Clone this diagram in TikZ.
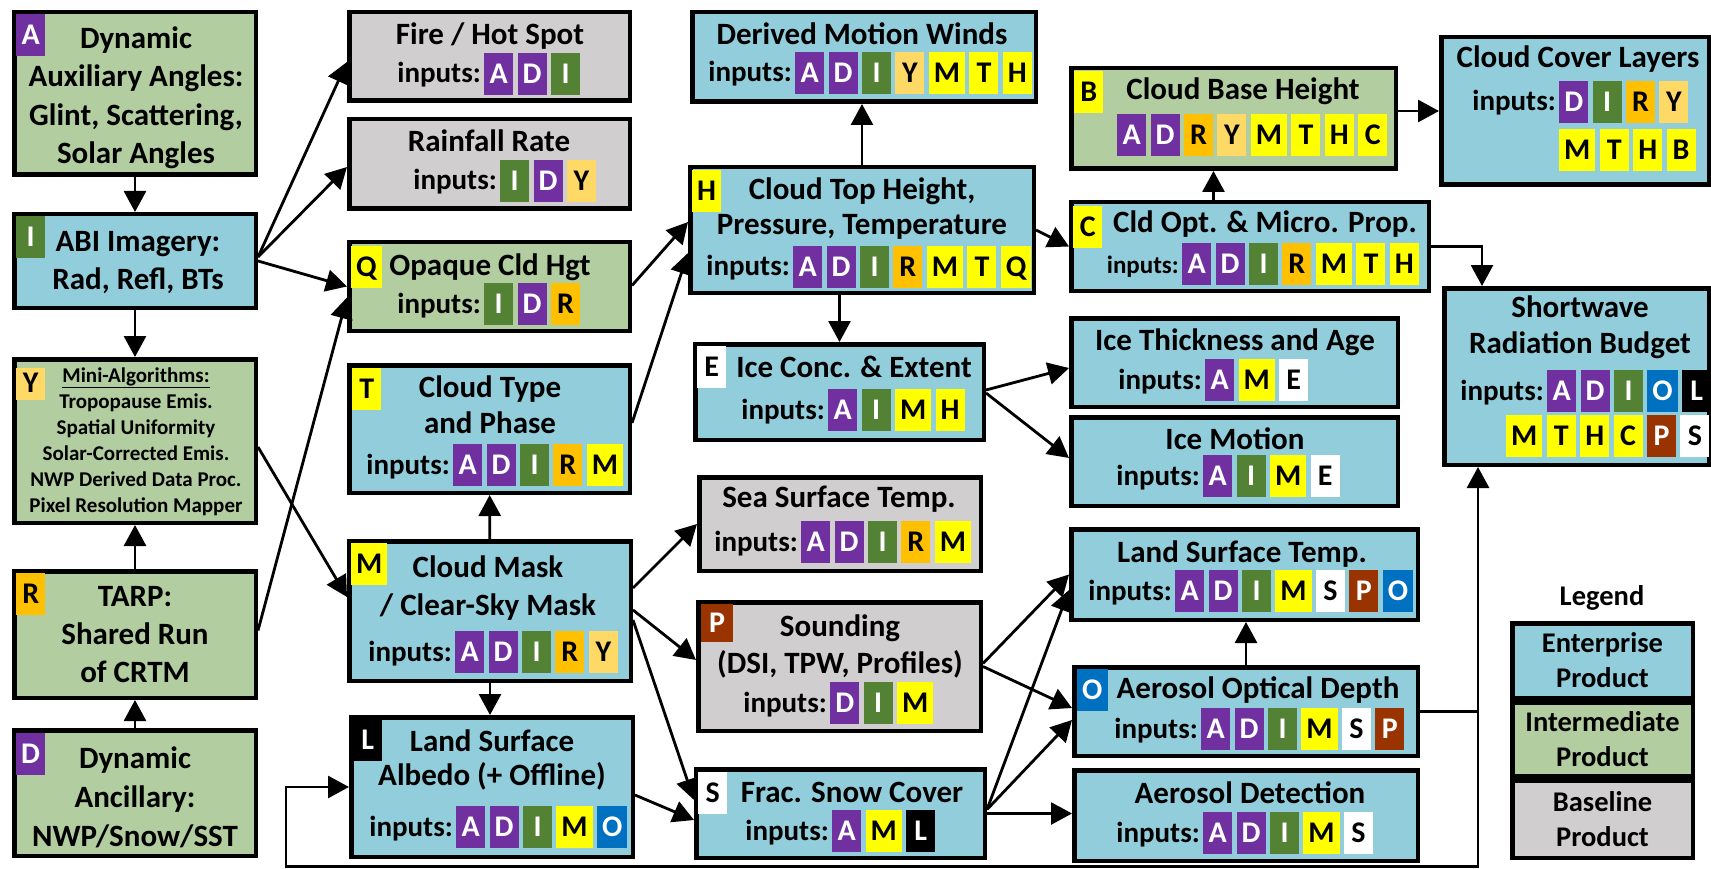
\documentclass[tikz,border=0pt]{standalone}
\usepackage{fontspec}
\setmainfont{Carlito}
\usetikzlibrary{positioning, arrows.meta}

\definecolor{entblue}{RGB}{146,205,220}
\definecolor{intgreen}{RGB}{178,205,160}
\definecolor{basegray}{RGB}{208,206,206}
\definecolor{purp}{RGB}{112,48,160}
\definecolor{leaf}{RGB}{84,130,53}
\definecolor{sand}{RGB}{255,217,102}
\definecolor{amber}{RGB}{255,192,0}
\definecolor{lemon}{RGB}{255,255,0}
\definecolor{rust}{RGB}{153,51,0}
\definecolor{ocean}{RGB}{0,112,192}

% letter -> fill colour and text colour
\newcommand\lettercol[3]{\colorlet{c#1}{#2}\colorlet{t#1}{#3}}
\lettercol{A}{purp}{white}
\lettercol{D}{purp}{white}
\lettercol{I}{leaf}{white}
\lettercol{Y}{sand}{black}
\lettercol{R}{amber}{black}
\lettercol{M}{lemon}{black}
\lettercol{T}{lemon}{black}
\lettercol{H}{lemon}{black}
\lettercol{Q}{lemon}{black}
\lettercol{C}{lemon}{black}
\lettercol{B}{lemon}{black}
\lettercol{E}{white}{black}
\lettercol{S}{white}{black}
\lettercol{P}{rust}{white}
\lettercol{O}{ocean}{white}
\lettercol{L}{black}{white}

% product box from its outer corners
\newcommand\prodbox[6]{\node[pbox, fill=#2, minimum width={#5-#3-4.5}, minimum height={#6-#4-4.5}] (#1) at ({(#3+#5)/2},{(#4+#6)/2}) {};}
% row of input letters, first one starting at x
\newcommand\badgerow[4]{%
  \coordinate (#1-0) at ({#2-4},#3);
  \foreach \ltr [count=\n, remember=\n as \pv (initially 0)] in {#4}
    \node[badge, fill=c\ltr, text=t\ltr, right=4pt of #1-\pv] (#1-\n) {\ltr};}

\begin{document}
\begin{tikzpicture}[x=1pt, y=-1pt,
  pbox/.style={draw, line width=4.5pt, inner sep=0pt},
  badge/.style={minimum width=29pt, minimum height=42pt, inner xsep=5pt, inner ysep=0pt,
    text height=19.5pt, text depth=0pt, font=\bfseries\fontsize{30}{30}\selectfont},
  tag/.style={badge, anchor=north west},
  ttl/.style={align=center, inner sep=0pt, font=\bfseries\fontsize{31}{37}\selectfont},
  inl/.style={anchor=base east, inner sep=0pt, font=\bfseries\fontsize{29}{29}\selectfont},
  arr/.style={-{Triangle[length=21pt,width=22pt]}, line width=2.8pt}]

\useasboundingbox (0,0) rectangle (1711,869);

% left column
\prodbox{A}{intgreen}{12}{10}{258}{177}
\node[tag, fill=cA, text=tA] (A-tag) at (16,14) {A};
\node[ttl, font=\bfseries\fontsize{31}{38.5}\selectfont] (A-txt) at (136,98) {Dynamic\\Auxiliary Angles:\\Glint, Scattering,\\Solar Angles};

\prodbox{I}{entblue}{12}{212}{258}{310}
\node[tag, fill=cI, text=tI] (I-tag) at (16,216) {I};
\node[ttl, font=\bfseries\fontsize{31}{38}\selectfont] (I-txt) at (138,263) {ABI Imagery:\\Rad, Refl, BTs};

\prodbox{Y}{intgreen}{12}{357}{258}{525}
\node[tag, fill=cY, text=tY, minimum height=32pt, text height=17pt] (Y-tag) at (16,368) {Y};
\node[ttl, font=\bfseries\fontsize{21}{26}\selectfont] (Y-txt) at (136,442) {\underline{Mini-Algorithms:}\\Tropopause Emis.\\Spatial Uniformity\\Solar-Corrected Emis.\\NWP Derived Data Proc.\\Pixel Resolution Mapper};

\prodbox{R}{intgreen}{12}{569}{258}{700}
\node[tag, fill=cR, text=tR] (R-tag) at (16,573) {R};
\node[ttl, font=\bfseries\fontsize{31}{38}\selectfont] (R-txt) at (135,635) {TARP:\\Shared Run\\of CRTM};

\prodbox{D}{intgreen}{12}{728}{258}{858}
\node[tag, fill=cD, text=tD] (D-tag) at (16,733) {D};
\node[ttl, font=\bfseries\fontsize{31}{39}\selectfont] (D-txt) at (135,797) {Dynamic\\Ancillary:\\NWP/Snow/SST};

% second column
\prodbox{fire}{basegray}{347}{10}{632}{103}
\node[ttl, anchor=base] (fire-txt) at (490,45) {Fire / Hot Spot};
\node[inl] (fire-in) at (481,83) {inputs:};
\badgerow{fire}{484}{74}{A,D,I}

\prodbox{rain}{basegray}{347}{117}{632}{211}
\node[ttl, anchor=base] (rain-txt) at (489,152) {Rainfall Rate};
\node[inl] (rain-in) at (497,190) {inputs:};
\badgerow{rain}{500}{181}{I,D,Y}

\prodbox{Q}{intgreen}{347}{240}{632}{333}
\node[tag, fill=cQ, text=tQ] (Q-tag) at (351,246) {Q};
\node[ttl, anchor=base] (Q-txt) at (490,275) {Opaque Cld Hgt};
\node[inl] (Q-in) at (481,313) {inputs:};
\badgerow{Q}{484}{304}{I,D,R}

\prodbox{T}{entblue}{347}{363}{632}{495}
\node[tag, fill=cT, text=tT] (T-tag) at (352,368) {T};
\node[ttl, font=\bfseries\fontsize{31}{36}\selectfont] (T-txt) at (490,405) {Cloud Type\\and Phase};
\node[inl] (T-in) at (450,474) {inputs:};
\badgerow{T}{453}{465}{A,D,I,R,M}

\prodbox{M}{entblue}{347}{539}{633}{683}
\node[tag, fill=cM, text=tM] (M-tag) at (351,543) {M};
\node[ttl, font=\bfseries\fontsize{31}{38}\selectfont] (M-txt) at (488,588) {Cloud Mask\\/ Clear-Sky Mask};
\node[inl] (M-in) at (452,661) {inputs:};
\badgerow{M}{455}{652}{A,D,I,R,Y}

\prodbox{L}{entblue}{349}{715}{635}{859}
\node[tag, fill=cL, text=tL] (L-tag) at (353,719) {L};
\node[ttl, font=\bfseries\fontsize{31}{34}\selectfont] (L-txt) at (492,760) {Land Surface\\Albedo (+ Offline)};
\node[inl] (L-in) at (453,836) {inputs:};
\badgerow{L}{456}{827}{A,D,I,M,O}

% third column
\prodbox{DMW}{entblue}{690}{10}{1038}{104}
\node[ttl, anchor=base] (DMW-txt) at (862,45) {Derived Motion Winds};
\node[inl] (DMW-in) at (792,82) {inputs:};
\badgerow{DMW}{795}{73}{A,D,I,Y,M,T,H}

\prodbox{H}{entblue}{688}{165}{1036}{295}
\node[tag, fill=cH, text=tH] (H-tag) at (692,170) {H};
\node[ttl, font=\bfseries\fontsize{31}{35}\selectfont] (H-txt) at (862,209) {Cloud Top Height,\\Pressure, Temperature};
\node[inl] (H-in) at (790,276) {inputs:};
\badgerow{H}{793}{267}{A,D,I,R,M,T,Q}

\prodbox{E}{entblue}{693}{342}{986}{442}
\node[tag, fill=cE, text=tE] (E-tag) at (697,346) {E};
\node[ttl, anchor=base] (E-txt) at (854,377) {Ice Conc. \& Extent};
\node[inl] (E-in) at (825,419) {inputs:};
\badgerow{E}{828}{410}{A,I,M,H}

\prodbox{SST}{basegray}{697}{475}{983}{573}
\node[ttl, anchor=base] (SST-txt) at (839,507) {Sea Surface Temp.};
\node[inl] (SST-in) at (798,551) {inputs:};
\badgerow{SST}{801}{542}{A,D,I,R,M}

\prodbox{P}{basegray}{696}{600}{983}{733}
\node[tag, fill=cP, text=tP, minimum width=32pt, minimum height=38pt] (P-tag) at (701,604) {P};
\node[ttl] (P-txt) at (840,646) {Sounding\\(DSI, TPW, Profiles)};
\node[inl] (P-in) at (827,712) {inputs:};
\badgerow{P}{830}{703}{D,I,M}

\prodbox{S}{entblue}{694}{767}{987}{860}
\node[tag, fill=cS, text=tS] (S-tag) at (698,772) {S};
\node[ttl, anchor=base] (S-txt) at (852,802) {Frac. Snow Cover};
\node[inl] (S-in) at (829,840) {inputs:};
\badgerow{S}{832}{831}{A,M,L}

% fourth column
\prodbox{B}{intgreen}{1069}{66}{1398}{171}
\node[tag, fill=cB, text=tB] (B-tag) at (1074,71) {B};
\node[ttl, anchor=base] (B-txt) at (1243,100) {Cloud Base Height};
\badgerow{B}{1117}{135}{A,D,R,Y,M,T,H,C}

\prodbox{C}{entblue}{1069}{200}{1431}{293}
\node[tag, fill=cC, text=tC] (C-tag) at (1073,206) {C};
\node[ttl, anchor=base] (C-txt) at (1265,233) {Cld Opt. \& Micro. Prop.};
\node[inl, font=\bfseries\fontsize{25}{25}\selectfont] (C-in) at (1179,273) {inputs:};
\badgerow{C}{1182}{264}{A,D,I,R,M,T,H}

\prodbox{CCL}{entblue}{1439}{35}{1711}{187}
\node[ttl, anchor=base] (CCL-txt) at (1578,68) {Cloud Cover Layers};
\node[inl] (CCL-in) at (1556,111) {inputs:};
\badgerow{CCL1}{1559}{102}{D,I,R,Y}
\badgerow{CCL2}{1559}{150}{M,T,H,B}

\prodbox{ITA}{entblue}{1069}{316}{1400}{409}
\node[ttl, anchor=base] (ITA-txt) at (1235,350) {Ice Thickness and Age};
\node[inl] (ITA-in) at (1202,389) {inputs:};
\badgerow{ITA}{1205}{380}{A,M,E}

\prodbox{IM}{entblue}{1069}{415}{1400}{508}
\node[ttl, anchor=base] (IM-txt) at (1235,449) {Ice Motion};
\node[inl] (IM-in) at (1200,485) {inputs:};
\badgerow{IM}{1203}{476}{A,I,M,E}

\prodbox{LST}{entblue}{1069}{527}{1420}{622}
\node[ttl, anchor=base] (LST-txt) at (1242,562) {Land Surface Temp.};
\node[inl] (LST-in) at (1172,600) {inputs:};
\badgerow{LST}{1175}{591}{A,D,I,M,S,P,O}

\prodbox{AOD}{entblue}{1072}{665}{1420}{758}
\node[tag, fill=cO, text=tO] (AOD-tag) at (1077,669) {O};
\node[ttl, anchor=base] (AOD-txt) at (1258,698) {Aerosol Optical Depth};
\node[inl] (AOD-in) at (1198,738) {inputs:};
\badgerow{AOD}{1201}{729}{A,D,I,M,S,P}

\prodbox{AD}{entblue}{1072}{768}{1420}{863}
\node[ttl, anchor=base] (AD-txt) at (1250,803) {Aerosol Detection};
\node[inl] (AD-in) at (1200,842) {inputs:};
\badgerow{AD}{1203}{833}{A,D,I,M,S}

\prodbox{SRB}{entblue}{1442}{286}{1711}{467}
\node[ttl, font=\bfseries\fontsize{31}{36}\selectfont] (SRB-txt) at (1580,327) {Shortwave\\Radiation Budget};
\node[inl] (SRB-in) at (1544,400) {inputs:};
\badgerow{SRB1}{1547}{391}{A,D,I,O,L}
\badgerow{SRB2}{1506}{436}{M,T,H,C,P,S}

% legend
\node[ttl, anchor=base, font=\bfseries\fontsize{28.5}{35}\selectfont] (lg) at (1602,605) {Legend};
\node[pbox, fill=entblue, minimum width=180.5, minimum height=74.5, align=center, font=\bfseries\fontsize{28.5}{35}\selectfont] (lg-ent) at (1602.5,660.5) {Enterprise\\Product};
\node[pbox, fill=intgreen, minimum width=180.5, minimum height=73.5, align=center, font=\bfseries\fontsize{28.5}{35}\selectfont] (lg-int) at (1602.5,739) {Intermediate\\Product};
\node[pbox, fill=basegray, minimum width=180.5, minimum height=77.5, align=center, font=\bfseries\fontsize{28.5}{35}\selectfont] (lg-base) at (1602.5,819) {Baseline\\Product};

% connectors
\path[arr]
  (A) edge (I)
  (I) edge (Y)
  (R) edge (Y)
  (D) edge (R)
  ([yshift=4pt]I.east) edge ([yshift=-5.5pt]fire.west)
  ([yshift=4pt]I.east) edge ([yshift=-3pt]rain.west)
  (I.east) edge (Q.west)
  ([yshift=-6pt]Y.east) edge ([yshift=14pt]M.west)
  ([yshift=4pt]R.east) edge ([yshift=-11pt]Q.west)
  ([yshift=1pt]Q.east) edge ([yshift=8pt]H.west)
  ([yshift=6pt]T.east) edge ([yshift=-23pt]H.west)
  (M) edge (T)
  (M.south) edge (M.south |- L.north)
  ([yshift=23pt]M.east) edge (SST.west)
  ([yshift=1pt]M.east) edge ([yshift=6.5pt]P.west)
  ([yshift=-9pt]M.east) edge ([yshift=13.5pt]S.west)
  ([yshift=-8pt]L.east) edge ([yshift=-6.5pt]S.west)
  (H.north) edge (H.north |- DMW.south)
  (H.south -| E.north) edge (E.north)
  (H.east) edge (C.west)
  (B.east |- CCL.west) edge (CCL.west)
  ([yshift=2pt]E.east) edge ([yshift=-5.5pt]ITA.west)
  ([yshift=-1pt]E.east) edge ([yshift=3.5pt]IM.west)
  ([yshift=3pt]P.east) edge (LST.west)
  (P.east) edge ([yshift=3.5pt]AOD.west)
  ([yshift=4pt]S.east) edge ([yshift=-15.5pt]LST.west)
  ([yshift=4pt]S.east) edge ([yshift=-8.5pt]AOD.west)
  (S.east) edge (S.east -| AD.west)
  (AOD.north) edge (AOD.north |- LST.south);

\coordinate (cb) at ([xshift=-20pt]B.south);
\draw[arr] (cb |- C.north) -- (cb);
\draw[arr] (C.east) -| ([xshift=-94.5pt]SRB.north);
\coordinate (jO) at ([xshift=58pt]AOD.east);
\coordinate (lp) at (286,866.5);
\draw[arr] (AOD.east) -- (jO) -- (jO |- SRB.south);
\draw[arr] (jO) |- (lp) |- (L.west);

\end{tikzpicture}
\end{document}
